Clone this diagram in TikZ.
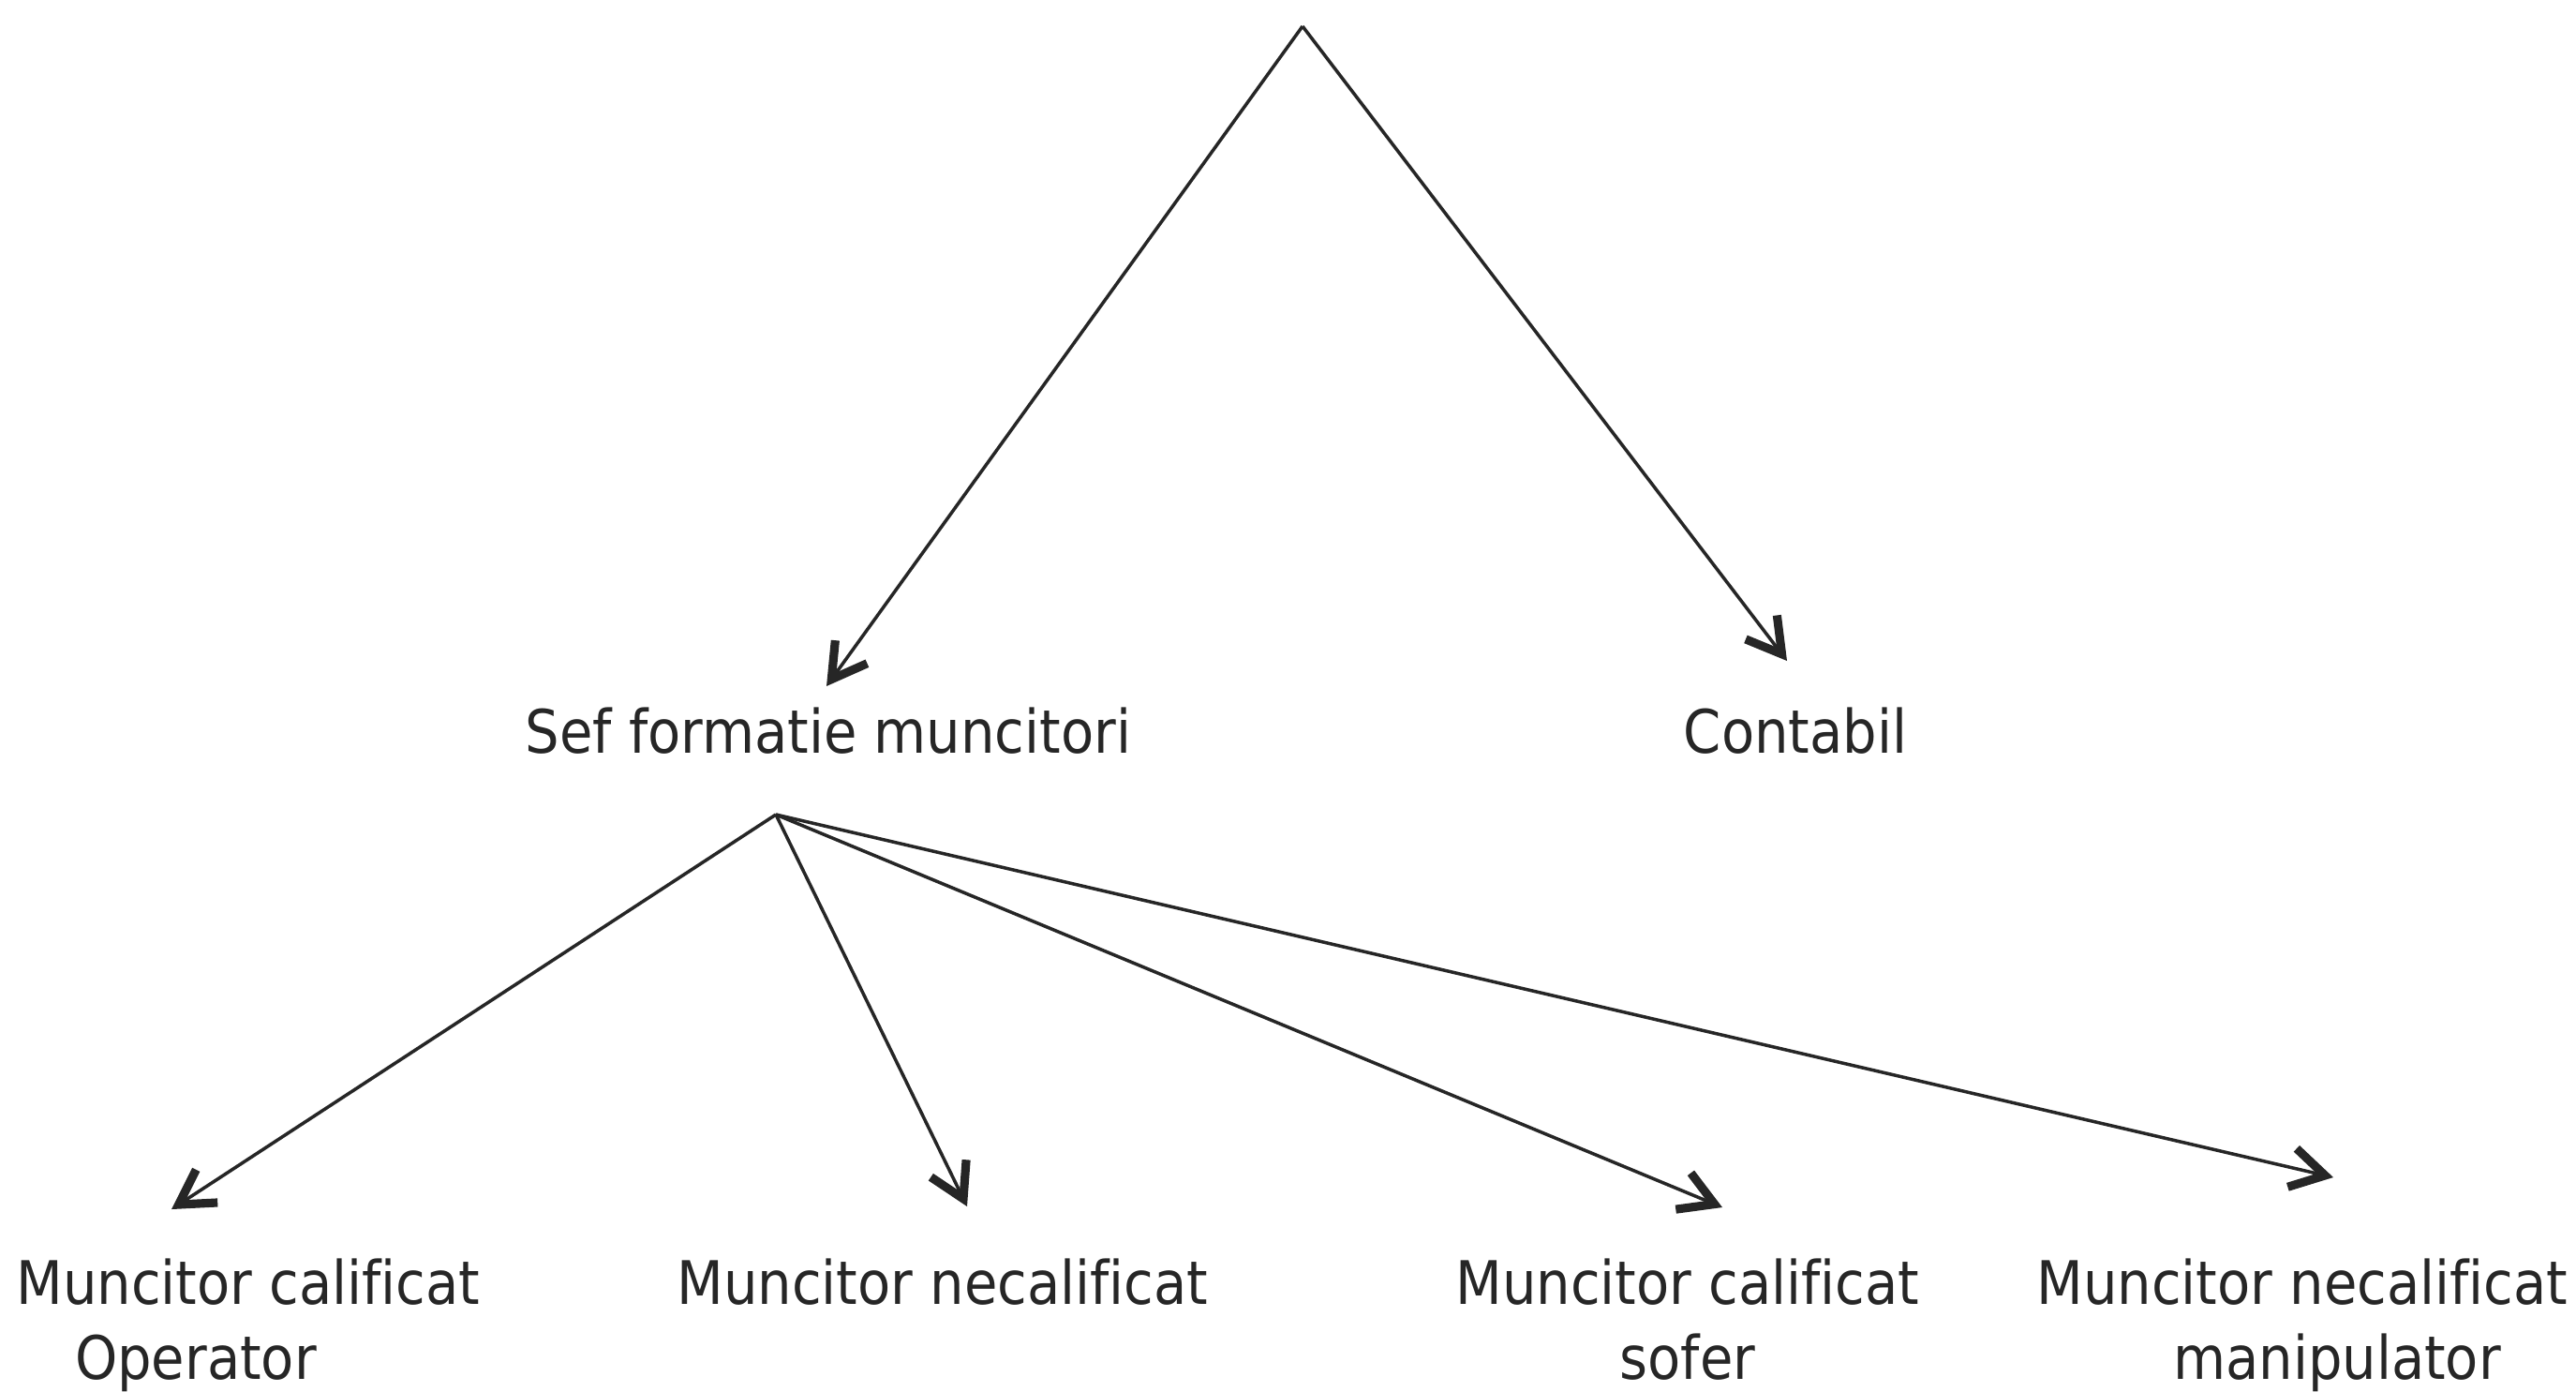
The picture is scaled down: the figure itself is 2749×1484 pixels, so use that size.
\documentclass[tikz,border=0pt]{standalone}
\usepackage{fontspec}
\setmainfont{DejaVu Sans Condensed}[Ligatures=CommonOff]
\usepackage{tikz}
\usetikzlibrary{arrows.meta}
\definecolor{ink}{HTML}{262626}

\begin{document}
\begin{tikzpicture}[x=0.01cm,y=-0.01cm,
  post/.style={anchor=north,inner sep=0pt,text=ink,font=\fontsize{18.2pt}{22.8pt}\selectfont},
  arr/.style={draw=ink,line width=1pt,-{Straight Barb[length=0.36cm,width=0.42cm,line width=2.6pt].}}]
\useasboundingbox (0,0) rectangle (2749,1484);
\coordinate (top) at (1390,28);
\coordinate (fan) at (828,869);
\node[post] (sef) at (884,754) {Sef formatie muncitori};
\node[post] (cont) at (1916,754) {Contabil};
\node[post,align=center] (mcop) at (265,1342) {Muncitor calificat\\Operator\hspace*{1.12cm}};
\node[post] (mnec) at (1006,1342) {Muncitor necalificat};
\node[post,align=center] (msof) at (1801,1342) {Muncitor calificat\\sofer};
\node[post,align=center] (mman) at (2457,1342) {Muncitor necalificat\\\hspace*{0.74cm}manipulator};

\path (top) edge[arr] ([shift={(-2,-22)}]sef.north);
\path (top) edge[arr] ([shift={(-9,-49)}]cont.north);
\path (fan) edge[arr] ([shift={(-82,-52)}]mcop.north);
\path (fan) edge[arr] ([shift={(26,-55)}]mnec.north);
\path (fan) edge[arr] ([shift={(37,-54)}]msof.north);
\path (fan) edge[arr] ([shift={(33,-86)}]mman.north);
\end{tikzpicture}
\end{document}
